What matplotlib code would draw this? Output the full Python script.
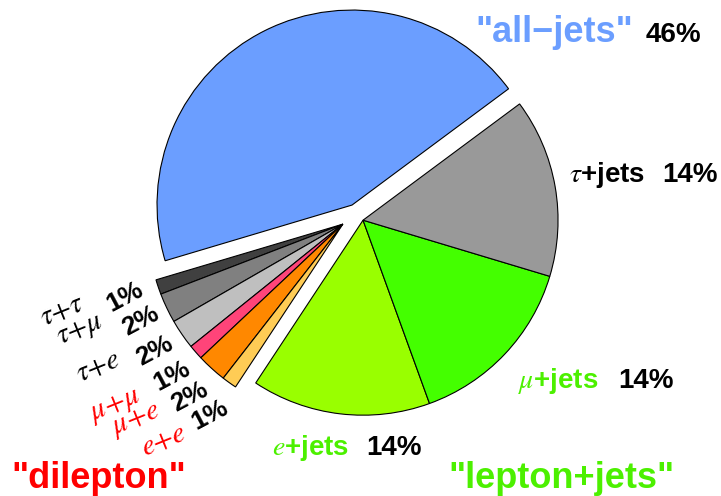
import numpy as np
import matplotlib
matplotlib.use("Agg")
import matplotlib.pyplot as plt

plt.rcParams['font.family'] = ['Liberation Sans', 'DejaVu Sans']
plt.rcParams['mathtext.fontset'] = 'stix'

# ---- data (shares) ----
channels = ["all-jets", "tau+tau", "tau+mu", "tau+e", "mu+mu", "mu+e", "e+e",
            "e+jets", "mu+jets", "tau+jets"]
shares = [44.4, 1.23, 2.47, 2.47, 1.23, 2.47, 1.23, 14.8, 14.8, 14.8]
groups = ["alljets", "dilep", "dilep", "dilep", "dilep", "dilep", "dilep",
          "lepjets", "lepjets", "lepjets"]
colors = ["#6b9eff", "#404040", "#808080", "#bfbfbf", "#ff4479", "#ff8800",
          "#ffcc55", "#99ff00", "#44ff00", "#999999"]

# printed percentages
pct_alljets = "46%"
pct_taujets = "14%"
pct_mujets = "14%"
pct_ejets = "14%"
dilep_names = [r"$\tau{+}\tau$", r"$\tau{+}\mu$", r"$\tau{+}e$",
               r"$\mu{+}\mu$", r"$\mu{+}e$", r"$e{+}e$"]
dilep_pcts = ["1%", "2%", "2%", "1%", "2%", "1%"]
dilep_name_colors = ["black", "black", "black", "red", "red", "red"]

# group offsets (px)
shift = {"alljets": 10, "dilep": 17, "lepjets": 9}

W, H = 721, 496
fig = plt.figure(figsize=(W / 100, H / 100), dpi=100)
ax = fig.add_axes([0, 0, 1, 1])

cx, cy, R = 356.5, H - 214, 195
wedges, _ = ax.pie(shares, colors=colors, startangle=36.6, counterclock=True,
                   center=(cx, cy), radius=R, frame=True,
                   wedgeprops=dict(edgecolor="black", linewidth=0.8))
ax.set_xlim(0, W)
ax.set_ylim(0, H)
ax.set_aspect('equal')
ax.axis('off')

# move each group of wedges out along the group's mid angle
for g in shift:
    idx = [i for i, gg in enumerate(groups) if gg == g]
    t1 = wedges[idx[0]].theta1
    t2 = wedges[idx[-1]].theta2
    mid = np.deg2rad((t1 + t2) / 2)
    for i in idx:
        wedges[i].set_center((cx + shift[g] * np.cos(mid),
                              cy + shift[g] * np.sin(mid)))

# ---- labels ----
def y(p):
    return H - p

ax.text(554, y(42), '"all\u2212jets"', color="#6b9eff", fontsize=26,
        fontweight="bold", ha="center", va="baseline")
ax.text(646, y(42), pct_alljets, fontsize=20, fontweight="bold", va="baseline")

ax.text(569, y(182), r"$\tau$+jets", fontsize=20, fontweight="bold", va="baseline")
ax.text(662, y(182), pct_taujets, fontsize=20, fontweight="bold", va="baseline")

ax.text(518, y(388), r"$\mu$+jets", color="#4cf000", fontsize=20,
        fontweight="bold", va="baseline")
ax.text(618, y(388), pct_mujets, fontsize=20, fontweight="bold", va="baseline")

ax.text(272, y(455), r"$e$+jets", color="#4cf000", fontsize=20,
        fontweight="bold", va="baseline")
ax.text(366, y(455), pct_ejets, fontsize=20, fontweight="bold", va="baseline")

ax.text(561, y(488), '"lepton+jets"', color="#4cf000", fontsize=26,
        fontweight="bold", ha="center", va="baseline")
ax.text(99, y(488), '"dilepton"', color="red", fontsize=26,
        fontweight="bold", ha="center", va="baseline")

name_xy = [(62, 310), (80, 330), (98, 366), (115, 405), (136, 420), (163, 440)]
pct_xy = [(125, 297), (141, 321), (155, 351), (172, 376), (190, 397), (210, 415)]
for k in range(6):
    ax.text(name_xy[k][0], y(name_xy[k][1]), dilep_names[k], fontsize=21,
            color=dilep_name_colors[k], rotation=22, ha="center", va="center",
            rotation_mode="anchor")
    ax.text(pct_xy[k][0], y(pct_xy[k][1]), dilep_pcts[k], fontsize=19,
            fontweight="bold", rotation=28, ha="center", va="center",
            rotation_mode="anchor")

fig.savefig("out.png", dpi=100)
